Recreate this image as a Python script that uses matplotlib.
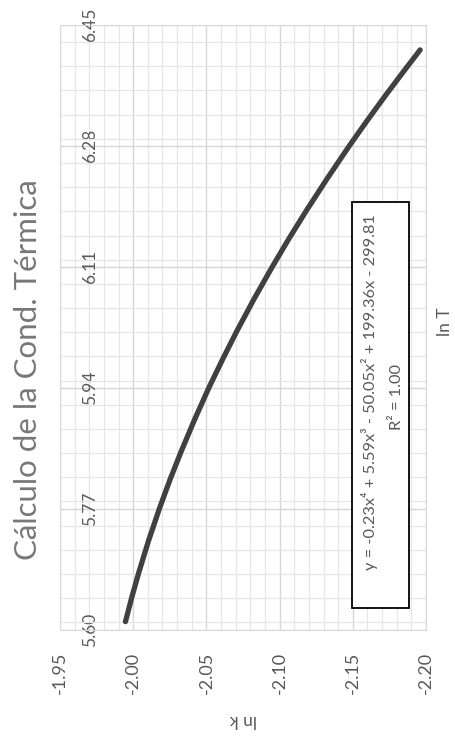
import matplotlib
matplotlib.use('Agg')
from matplotlib import pyplot as plt
from matplotlib.patches import Rectangle
from matplotlib.ticker import MultipleLocator

plt.rcParams['font.family'] = ['Lato', 'DejaVu Sans']

# curve: ln T (vertical) and ln k (horizontal)
ln_t = [5.611, 5.645, 5.68, 5.725, 5.77, 5.81, 5.85, 5.895, 5.94, 5.98,
        6.02, 6.065, 6.11, 6.15, 6.19, 6.235, 6.28, 6.315, 6.35, 6.385, 6.415]
ln_k = [-1.9947, -1.9990, -2.0038, -2.0105, -2.0179, -2.0250, -2.0327,
        -2.0419, -2.0517, -2.0611, -2.0709, -2.0826, -2.0950, -2.1065,
        -2.1186, -2.1328, -2.1476, -2.1596, -2.1720, -2.1848, -2.1960]

k_ticks = [-1.95, -2.00, -2.05, -2.10, -2.15, -2.20]
t_ticks = [5.60, 5.77, 5.94, 6.11, 6.28, 6.45]

title = 'Cálculo de la Cond. Térmica'
fit_eq = 'y = -0.23x⁴ + 5.59x³ - 50.05x² + 199.36x - 299.81'
fit_r2 = 'R² = 1.00'

GRAY = '#595959'

fig = plt.figure(figsize=(4.56, 7.40), dpi=100)
ax = fig.add_axes([60 / 456, 1 - 629.5 / 740, 366 / 456, 604.5 / 740])

ax.set_xlim(-1.95, -2.20)
ax.set_ylim(5.60, 6.45)
ax.set_xticks(k_ticks, [f'{v:.2f}' for v in k_ticks], rotation=90,
              color=GRAY, fontsize=13)
ax.set_yticks(t_ticks, [f'{v:.2f}' for v in t_ticks], rotation=90,
              ha='center', va='center', color=GRAY, fontsize=12.5)
ax.xaxis.set_minor_locator(MultipleLocator(0.01))
ax.yaxis.set_minor_locator(MultipleLocator(0.034))
ax.tick_params(which='both', length=0)
ax.tick_params(axis='x', pad=16)
ax.tick_params(axis='y', pad=-21.5)

ax.grid(which='major', color='#d6d6d6', lw=1.0)
ax.grid(which='minor', color='#e6e6e6', lw=0.9)
ax.set_axisbelow(True)
for sp in ax.spines.values():
  sp.set_color('#d9d9d9')

ax.plot(ln_k, ln_t, color='#404040', lw=3.8, solid_capstyle='round',
        solid_joinstyle='round', zorder=3)

# trendline label box
ax.add_patch(Rectangle((292 / 366, (629.5 - 608) / 604.5), 57 / 366, 406 / 604.5,
                       transform=ax.transAxes, facecolor='white',
                       edgecolor='black', lw=1.3, zorder=4))
ax.text(310 / 366, (629.5 - 392) / 604.5, fit_eq, transform=ax.transAxes,
        rotation=90, ha='center', va='center', color=GRAY, fontsize=11.8, zorder=5)
ax.text(337 / 366, (629.5 - 397) / 604.5, fit_r2, transform=ax.transAxes,
        rotation=90, ha='center', va='center', color=GRAY, fontsize=11.8, zorder=5)

fig.text(28 / 456, 1 - 370 / 740, title, rotation=90, ha='center', va='center',
         color='#777777', fontsize=22.5)
fig.text(243 / 456, 1 - 720 / 740, 'ln k', rotation=180, ha='center',
         va='center', color=GRAY, fontsize=12.5)
fig.text(445 / 456, 1 - 322 / 740, 'ln T', rotation=90, ha='center',
         va='center', color=GRAY, fontsize=12.5)

fig.savefig('out.png', dpi=100, facecolor='white')
